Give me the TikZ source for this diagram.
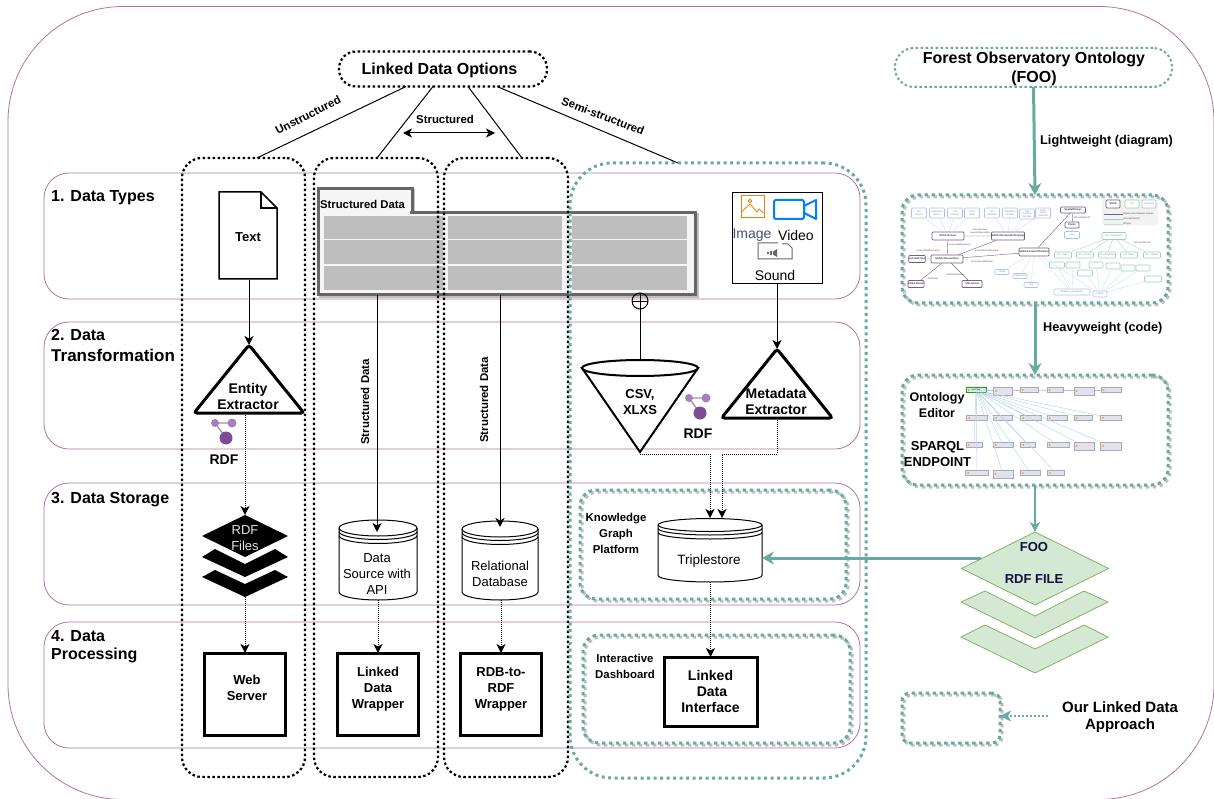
\documentclass[tikz,border=0pt]{standalone}
\usepackage{fontspec}
\setmainfont{Liberation Sans}
\usetikzlibrary{arrows.meta,shapes.geometric}

\definecolor{rowpurple}{HTML}{B5739D}
\definecolor{footeal}{HTML}{67AB9F}
\definecolor{cellgrey}{HTML}{BEBEBE}
\definecolor{tablegrey}{HTML}{666666}
\definecolor{stackgreen}{HTML}{D5E8D4}
\definecolor{stackedge}{HTML}{82B366}
\definecolor{foonavy}{HTML}{10103F}
\definecolor{rdflight}{HTML}{A680B8}
\definecolor{rdfdark}{HTML}{7F4B96}
\definecolor{sosapurple}{HTML}{7A5C86}
\definecolor{miniblue}{HTML}{A9C4F0}
\definecolor{minigreen}{HTML}{98D2B6}
\definecolor{linkblue}{HTML}{BDD7EA}
\definecolor{imageslate}{HTML}{46536B}
\definecolor{classfill}{HTML}{E2E2EC}
\definecolor{classedge}{HTML}{A8A8B6}

\tikzset{
  framebox/.style={draw=rowpurple, line width=0.8pt, inner sep=0pt, outer sep=0pt},
  rowbox/.style={framebox, rounded corners=25pt, minimum width=816pt},
  optioncol/.style={draw=black, line width=2.2pt, dash pattern=on 2.5pt off 2.5pt, rounded corners=20pt, inner sep=0pt, outer sep=0pt, minimum width=123pt, minimum height=619pt},
  foobox/.style={draw=footeal, line width=3pt, dash pattern=on 3.5pt off 3.5pt, rounded corners=16pt, inner sep=0pt, outer sep=0pt,
    preaction={draw=black!25, transform canvas={shift={(2pt,-2pt)}}}},
  lab/.style={font=\bfseries\fontsize{13}{16}\selectfont, align=center, inner sep=0pt},
  biglab/.style={font=\bfseries\fontsize{14}{16}\selectfont, align=center, inner sep=0pt},
  smalllab/.style={font=\bfseries\fontsize{11.4}{16}\selectfont, align=center, inner sep=0pt},
  arrowlab/.style={font=\bfseries\fontsize{12.7}{14}\selectfont, inner sep=0pt, anchor=west},
  rowlab/.style={font=\bfseries\fontsize{16}{21}\selectfont, align=left, inner sep=0pt, anchor=west},
  plainlab/.style={font=\fontsize{13}{16}\selectfont, align=center, inner sep=0pt},
  iconlab/.style={font=\fontsize{14}{16}\selectfont, inner sep=0pt},
  blackbox/.style={draw=black, line width=3pt, fill=white, inner sep=0pt, outer sep=0pt, minimum width=81pt, minimum height=82pt},
  extractor/.style={draw=black, fill=white, line width=3pt, isosceles triangle, isosceles triangle stretches, shape border rotate=90, rounded corners=3pt, inner sep=0pt, outer sep=0pt, anchor=apex},
  dbstore/.style={inner sep=0pt, outer sep=0pt},
  ringline/.style={draw=black, line width=1pt},
  solidline/.style={draw=black, line width=1pt},
  solidarrow/.style={solidline, -{Stealth[length=9pt,width=9pt,inset=2.5pt]}},
  dotarrow/.style={draw=black, line width=1pt, dash pattern=on 1pt off 1pt, -{Stealth[length=9pt,width=9pt,inset=2.5pt]}},
  tealarrow/.style={draw=footeal, line width=3pt, -{Stealth[length=12pt,width=13pt,inset=4pt]}},
  blackstack/.style={fill=black},
  greenstack/.style={fill=stackgreen, draw=stackedge, line width=0.8pt},
  sosanode/.style={draw=sosapurple, line width=0.7pt, fill=white, rounded corners=1pt, inner sep=0pt, minimum height=8pt, text=black!80, font=\bfseries\fontsize{2.6}{3}\selectfont},
  bluenode/.style={draw=miniblue, line width=0.6pt, fill=white, rounded corners=1pt, inner sep=0pt, minimum width=15pt, minimum height=6pt, align=center, text=black!45, font=\fontsize{2.4}{2.8}\selectfont},
  greennode/.style={draw=minigreen, line width=0.6pt, fill=white, rounded corners=1pt, inner sep=0pt, minimum width=17pt, minimum height=6pt, text=black!45, font=\fontsize{2.4}{2.8}\selectfont},
  minilink/.style={draw=miniblue!70, line width=0.3pt},
  greenlink/.style={draw=minigreen, line width=0.3pt},
  purplelink/.style={draw=sosapurple, line width=0.4pt},
  linklab/.style={font=\fontsize{2.3}{2.6}\selectfont, inner sep=0pt, text=black!70},
  classbox/.style={draw=classedge, line width=0.4pt, fill=classfill, inner sep=0pt, minimum height=5pt, minimum width=19pt,
    path picture={\fill[orange!80!yellow] ([xshift=2.5pt]path picture bounding box.west) circle (1pt);}},
  classlink/.style={draw=linkblue, line width=0.5pt},
  rdfmark/.pic={
    \draw[black!40, line width=1.3pt] (0,0) -- (17,0) (0,0) -- (11,15);
    \fill[rdflight] (0,0) circle (4);
    \fill[rdflight] (17,0) circle (4.5);
    \fill[rdfdark] (11,15) circle (6.5);
  }
}

% left x, y of top rim, x radius, y radius, y of bottom rim
\newcommand{\dbdraw}[5]{
  \draw[ringline, fill=white] (#1,#2) arc[start angle=180, end angle=360, x radius=#3, y radius=#4] -- ({#1+2*#3},#5) arc[start angle=0, end angle=180, x radius=#3, y radius=#4] -- cycle;
  \draw[ringline] (#1,#2) arc[start angle=180, end angle=0, x radius=#3, y radius=#4];
  \draw[ringline] (#1,{#2+3.5}) arc[start angle=180, end angle=0, x radius=#3, y radius=#4];
  \draw[ringline] (#1,{#2+7.5}) arc[start angle=180, end angle=0, x radius=#3, y radius=#4];
}

\begin{document}
\begin{tikzpicture}[x=1pt,y=-1pt]
\useasboundingbox (0,0) rectangle (1214,799);

% frames
\node[framebox, rounded corners=115pt, minimum width=1206pt, minimum height=793pt] (outerframe) at (611,403) {};
\node[rowbox, minimum height=126pt] (rowone) at (452,236) {};
\node[rowbox, minimum height=127pt] (rowtwo) at (452,385.5) {};
\node[rowbox, minimum height=122pt] (rowthree) at (452,544) {};
\node[rowbox, minimum height=126pt] (rowfour) at (452,685) {};

\node[rowlab] (typeslab) at (51,198) {1. Data Types};
\node[rowlab] (translab) at (51,345) {2. Data\\{\fontsize{17}{21}\selectfont Transformation}};
\node[rowlab] (storagelab) at (51,500) {3. Data Storage};
\node[rowlab] (processlab) at (51,646.5) {4. Data\\[-3pt]Processing};

% structured data table
\node[draw=tablegrey, line width=3pt, fill=black!4, inner sep=0pt, outer sep=0pt, minimum width=94pt, minimum height=24pt,
  preaction={draw=black!25, transform canvas={shift={(1.5pt,-1.5pt)}}}] (tabletab) at (365,201) {};
\node[draw=tablegrey, line width=3pt, fill=black!4, inner sep=0pt, outer sep=0pt, minimum width=377pt, minimum height=82pt,
  preaction={draw=black!25, transform canvas={shift={(1.5pt,-1.5pt)}}}] (datatable) at (507,254) {};
\fill[black!4] (320,210) rectangle (410,215);
\node[font=\bfseries\fontsize{11.3}{13}\selectfont, inner sep=0pt] (tablelab) at (362.5,204) {Structured Data};
\fill[cellgrey] (324,216) rectangle (443,239);
\fill[cellgrey] (324,240) rectangle (443,264);
\fill[cellgrey] (324,266) rectangle (443,290);
\fill[cellgrey] (448,216) rectangle (562,239);
\fill[cellgrey] (448,240) rectangle (562,264);
\fill[cellgrey] (448,266) rectangle (562,290);
\fill[cellgrey] (572,216) rectangle (687,239);
\fill[cellgrey] (572,240) rectangle (687,264);
\fill[cellgrey] (572,266) rectangle (687,290);

% option columns
\node[optioncol] (colone) at (243.5,467.5) {};
\node[optioncol, minimum width=124pt] (coltwo) at (376,467.5) {};
\node[optioncol, minimum width=124pt] (colthree) at (506,467.5) {};
\node[draw=footeal, line width=3pt, dash pattern=on 3pt off 3.5pt, rounded corners=42pt, inner sep=0pt, outer sep=0pt, minimum width=296pt, minimum height=615pt] (colfour) at (718,470.5) {};

\node[draw=black, line width=2.2pt, dash pattern=on 2.5pt off 2.5pt, rounded corners=17pt, inner sep=0pt, outer sep=0pt, minimum width=208pt, minimum height=35pt] (options) at (443,69) {};
\node[font=\bfseries\fontsize{16}{18}\selectfont, inner sep=0pt] (optionslab) at (439.5,70) {Linked Data Options};

\draw[solidline] ([xshift=-37pt]options.south) -- ([xshift=13.5pt]colone.north);
\draw[solidline] ([xshift=-10pt]options.south) -- ([xshift=1pt]coltwo.north);
\draw[solidline] ([xshift=25pt]options.south) -- ([xshift=16pt]colthree.north);
\draw[solidline] ([xshift=54pt]options.south) -- ([xshift=-40pt]colfour.north);
\node[smalllab, rotate=27] (unstructlab) at (308,115) {Unstructured};
\node[smalllab, rotate=-21] (semilab) at (603,116) {Semi-structured};
\node[smalllab] (structlab) at (445,119) {Structured};
\coordinate (structleft) at (403,133);
\coordinate (structright) at (495,133);
\draw[solidline, {Stealth[length=9pt,width=9pt,inset=2.5pt]}-{Stealth[length=9pt,width=9pt,inset=2.5pt]}] (structleft) -- (structright);

% text document and extractor
\node[minimum width=58pt, minimum height=87pt, inner sep=0pt, outer sep=0pt, lab] (textdoc) at (248,237) {Text};
\draw[draw=black, line width=1.5pt] (219,192) -- (261,192) -- (277,208) -- (277,279) -- (219,279) -- cycle;
\draw[draw=black, line width=1.5pt] (261,192) -- (261,208) -- (277,208);
\node[extractor, minimum width=110pt, minimum height=68pt] (entity) at (249,345) {};
\node[biglab] (entitylab) at (248,396) {Entity\\Extractor};
\draw[solidarrow] (entity.apex |- textdoc.south) -- (entity.apex);
\pic at (215,423) {rdfmark};
\node[biglab] (rdflabone) at (224,460) {RDF};

% rdf files stack
\fill[blackstack] (202,557) -- (215,549) -- (245,564) -- (275,549) -- (288,557) -- (245,577) -- cycle;
\fill[blackstack] (202,577) -- (215,570) -- (245,584) -- (275,570) -- (288,577) -- (245,597) -- cycle;
\node[diamond, aspect=2, fill=black, inner sep=0pt, outer sep=0pt, minimum width=86pt, minimum height=42pt] (rdffiles) at (245,536) {};
\node[plainlab, text=black!10] (rdffileslab) at (245,538.5) {RDF\\Files};
\draw[dotarrow] (rdffiles.north |- entity.lower side) -- (rdffiles.north);
\node[blackbox] (webserver) at (245,694) {};
\node[lab] (webserverlab) at (247,688) {Web\\Server};
\draw[dotarrow] (rdffiles.south |- 0,597) -- (webserver.north);

% structured data sources
\node[dbstore, minimum width=78pt, minimum height=80pt] (datasource) at (378,560) {};
\node[dbstore, minimum width=76pt, minimum height=79pt] (reldb) at (500,560.5) {};
\dbdraw{339}{528}{39}{8}{592}
\dbdraw{462}{529}{38}{8}{592}
\node[plainlab] (datasourcelab) at (377,574) {Data\\Source with\\API};
\node[plainlab] (reldblab) at (500,574) {Relational\\Database};
\coordinate (dsport) at (377,532);
\coordinate (dbport) at (500,527);
\draw[solidarrow] (datatable.south -| dsport) -- (dsport);
\draw[solidarrow] (datatable.south -| dbport) -- (dbport);
\node[smalllab, rotate=90] (sdlabone) at (365,402) {Structured Data};
\node[smalllab, rotate=90] (sdlabtwo) at (484,400) {Structured Data};
\node[blackbox] (wrapper) at (378,694) {};
\node[lab] (wrapperlab) at (378,689) {Linked\\Data\\Wrapper};
\node[blackbox] (rdbwrapper) at (501,694) {};
\node[lab] (rdbwrapperlab) at (501,689) {RDB-to-\\RDF\\Wrapper};
\draw[dotarrow] (wrapper.north |- datasource.south) -- (wrapper.north);
\draw[dotarrow] (rdbwrapper.north |- reldb.south) -- (rdbwrapper.north);

% semi-structured side
\node[draw=black, line width=1pt, fill=white, inner sep=0pt, outer sep=0pt, minimum width=90pt, minimum height=91pt] (mediabox) at (777,238) {};
\draw[draw=orange!70!brown, line width=1pt] (741,196) rectangle (764,218);
\draw[draw=orange!70!brown, line width=0.8pt] (741.5,212) -- (750,204) -- (757,212) -- (759,209) -- (763.5,213);
\draw[draw=orange!70!brown, line width=0.8pt] (750,201) circle (1.8);
\draw[draw=blue!50!cyan, line width=2pt, rounded corners=2pt] (774,200) rectangle (804,219);
\draw[draw=blue!50!cyan, line width=2pt, line join=round] (804,206) -- (816,200) -- (816,219) -- (804,213) -- cycle;
\node[iconlab, text=imageslate] (imagelab) at (752,235) {Image};
\node[iconlab] (videolab) at (796,235) {Video};
\draw[draw=black!60, line width=1pt] (778,243) -- (758,243) -- (758,259) -- (792,259) -- (792,248) -- (788,244) -- (782,244);
\fill[black!60] (770,251) rectangle (772,255);
\fill[black!60] (773,251.5) -- (777,249) -- (777,257) -- (773,254.5) -- cycle;
\fill[black!60] (767,252) rectangle (768.5,254);
\node[iconlab] (soundlab) at (775,275) {Sound};

\node[circle, draw=black, fill=none, line width=1pt, inner sep=0pt, outer sep=0pt, minimum size=16pt,
  path picture={\draw[black, line width=0.8pt] (path picture bounding box.north) -- (path picture bounding box.south) (path picture bounding box.west) -- (path picture bounding box.east);}] (joincircle) at (640,301) {};
\node[extractor, minimum width=116pt, minimum height=84pt, shape border rotate=270, line width=2pt, rounded corners=0pt] (funnel) at (640,452) {};
\node[ellipse, draw=black, fill=white, line width=2pt, inner sep=0pt, outer sep=0pt, minimum width=116pt, minimum height=16pt] (funneltop) at (640,368) {};
\node[lab] (funnellab) at (640,402) {CSV,\\XLXS};
\draw[solidline] (joincircle.south) -- (funneltop.north);
\pic at (689,398) {rdfmark};
\node[biglab] (rdflabtwo) at (698,434) {RDF};
\node[extractor, minimum width=111pt, minimum height=69pt] (metadata) at (777,349) {};
\node[biglab] (metadatalab) at (776,401) {Metadata\\Extractor};
\draw[solidarrow] (metadata.apex |- mediabox.south) -- (metadata.apex);

% knowledge graph platform
\node[foobox, minimum width=266pt, minimum height=109pt] (kgbox) at (713,544.5) {};
\node[dbstore, minimum width=104pt, minimum height=64pt] (triplestore) at (710,550) {};
\dbdraw{658}{525}{52}{6.5}{575.5}
\node[plainlab, font=\fontsize{13.5}{16}\selectfont] (triplelab) at (709,561.5) {Triplestore};
\node[smalllab] (kglab) at (616,533) {Knowledge\\Graph\\Platform};
\coordinate (tripleporta) at (710,518);
\coordinate (triplelportb) at (722,518);
\draw[dotarrow] (funnel.apex) -- ++(0,2) -| (tripleporta);
\draw[dotarrow] (metadata.lower side) -- ++(0,36) -| (triplelportb);

% interactive dashboard
\node[foobox, minimum width=267pt, minimum height=108pt] (dashbox) at (716.5,689) {};
\node[smalllab] (dashlab) at (625,666) {Interactive\\Dashboard};
\node[blackbox, biglab, minimum width=93pt, minimum height=69pt] (interface) at (710.5,691.5) {Linked\\\hspace*{3pt}Data\\Interface};
\draw[dotarrow] (interface.north |- triplestore.south) -- (interface.north);

% right hand side
\node[draw=footeal, line width=2pt, dash pattern=on 2.5pt off 2.5pt, rounded corners=19pt, inner sep=0pt, outer sep=0pt, minimum width=277pt, minimum height=39pt] (foobar) at (1033.5,67.5) {};
\node[lab, font=\bfseries\fontsize{16}{19}\selectfont] (foolab) at (1034,68.5) {Forest Observatory Ontology\\(FOO)};
\node[foobox, minimum width=266pt, minimum height=108pt] (diagrambox) at (1035,249) {};
\node[foobox, minimum width=266pt, minimum height=110pt] (editorbox) at (1035,430) {};
\draw[tealarrow] (foobar.south) -- (diagrambox.north);
\draw[tealarrow] (diagrambox.south) -- (editorbox.north);
\node[arrowlab] (lightlab) at (1040,141) {Lightweight (diagram)};
\node[arrowlab] (heavylab) at (1043,328) {Heavyweight (code)};

% ontology diagram in miniature
\node[bluenode, minimum height=10pt] (soilsensor) at (919,213) {Soil\\Sensor};
\node[bluenode, minimum height=10pt] (vegsensor) at (937,213) {Vegetation\\Sensor};
\node[bluenode, minimum height=10pt] (trailcam) at (955,213) {Trail\\Camera};
\node[bluenode, minimum height=10pt] (gpscollar) at (972,213) {GPS\\Collar};
\node[bluenode, minimum height=10pt] (soilvar) at (992,213) {Soil\\Variables};
\node[bluenode, minimum height=10pt] (vegvar) at (1010,213) {Vegetation\\Variable};
\node[bluenode, minimum height=10pt] (trailvar) at (1027,214) {Trail\\Camera\\Variable};
\node[bluenode, minimum height=10pt] (gpsvar) at (1043,213) {GPS\\Collar\\Variables};
\node[sosanode, minimum width=32pt] (sosasensor) at (948,236) {SOSA:Sensor};
\node[sosanode, minimum width=32pt] (obsprop) at (1008,236) {SOSA:ObservableProperty};
\node[sosanode, minimum width=32pt] (sosaobs) at (947,259) {SOSA:Observation};
\node[sosanode, minimum width=30pt] (featureint) at (1034,252) {SOSA:FeatureOfInterest};
\node[sosanode, minimum width=16pt, minimum height=7pt] (xsdtime) at (917,259) {xsd:dateTime};
\node[sosanode, minimum width=16pt, minimum height=7pt] (sosaresult) at (916,284) {SOSA:Result};
\node[sosanode, minimum width=20pt, minimum height=7pt] (rdfsliteral) at (972,284) {rdfs:Literal};
\node[sosanode, minimum width=25pt, minimum height=6pt] (spatial) at (1073,210) {SpatialThings};
\node[sosanode, minimum width=14pt, minimum height=6pt] (plants) at (1072,225) {Plants};
\node[bluenode, minimum height=7pt] (geolist) at (1072,235) {Geo};
\node[bluenode, minimum width=14pt, minimum height=5pt] (imagemini) at (1002,272) {Image};
\node[bluenode, minimum width=14pt, minimum height=5pt] (vegmini) at (1020,276) {Vegetation};
\node[bluenode, minimum width=14pt, minimum height=5pt] (soilmini) at (1031,285) {Soil};
\node[greennode, minimum width=24pt, minimum height=7pt] (taxonrank) at (1114,236) {foo: TaxonRank};
\node[greennode] (fooclass) at (1063,255) {foo: Class};
\node[greennode] (foofamily) at (1085,255) {foo: Family};
\node[greennode] (fookingdom) at (1107,255) {foo: Kingdom};
\node[greennode] (fooorder) at (1129,255) {foo: Order};
\node[greennode] (foophylum) at (1152,255) {foo: Phylum};
\node[greennode, minimum width=15pt] (speciesa) at (1057,265) {};
\node[greennode, minimum width=14pt] (speciesb) at (1073,265) {};
\node[greennode, minimum width=15pt] (speciesc) at (1085,273) {};
\node[greennode, minimum width=14pt] (speciesd) at (1096,265) {};
\node[greennode, minimum width=14pt] (speciese) at (1113,266) {};
\node[greennode, minimum width=14pt] (speciesf) at (1128,268) {};
\node[greennode, minimum width=14pt] (speciesg) at (1143,268) {};
\node[greennode] (speciesh) at (1153,279) {};
\node[bluenode, minimum width=36pt] (elaphus) at (1072,292) {Elaphus\_canadensis};
\node[bluenode, minimum width=14pt] (python) at (1100,294) {Python};

\draw[minilink] (soilsensor) -- (sosasensor) (vegsensor) -- (sosasensor) (trailcam) -- (sosasensor) (gpscollar) -- (sosasensor);
\draw[minilink] (soilvar) -- (obsprop) (vegvar) -- (obsprop) (trailvar) -- (obsprop) (gpsvar) -- (obsprop);
\draw[minilink] (imagemini) -- (featureint) (vegmini) -- (featureint) (soilmini) -- (featureint) (elaphus) -- (featureint) (python) -- (featureint);
\draw[purplelink] (sosasensor) -- (obsprop) (sosasensor) -- (sosaobs) (sosaobs) -- (xsdtime) (sosaobs) -- (sosaresult) (sosaobs) -- (rdfsliteral) (sosaobs) -- (obsprop) (sosaobs) -- (featureint) (featureint) -- (spatial) (spatial) -- (plants) (plants) -- (geolist);
\draw[greenlink] (taxonrank) -- (fooclass) (taxonrank) -- (foofamily) (taxonrank) -- (fookingdom) (taxonrank) -- (fooorder) (taxonrank) -- (foophylum);
\draw[minilink] (speciesa) -- (elaphus) (speciesb) -- (elaphus) (speciesc) -- (python) (speciesd) -- (python) (speciese) -- (python) (speciesf) -- (python) (speciesg) -- (python) (speciesh) -- (python);

\node[linklab] (observeslab) at (980,230) {sosa:observes};
\node[linklab] (isobservedlab) at (980,233) {sosa:isObservedBy};
\node[linklab] (madebylab) at (960,245) {sosa:madeBySensor};
\node[linklab] (madeobslab) at (928,251) {sosa:madeObservation};
\node[linklab] (obspropalab) at (987,251) {sosa:observedProperty};
\node[linklab] (hasfeatlab) at (982,262) {hasFeatureOfInterest};
\node[linklab] (hasresultlab) at (933,279) {hasResult};
\node[linklab] (simplelab) at (955,275) {hasSimpleResult};
\node[linklab] (subclasslab) at (1082,218) {rdfs:subClassOf};
\node[linklab] (subclasstwolab) at (1142,243) {rdfs:subClassOf};

\node[fill=black!5, rounded corners=3pt, inner sep=0pt, minimum width=56pt, minimum height=27pt] (legendpanel) at (1130,212) {};
\node[sosanode, minimum width=14pt] (legendsosa) at (1113,204) {SOSA};
\node[greennode, minimum width=14pt, minimum height=8pt] (legendfoo) at (1132,204) {foo};
\node[bluenode, minimum width=14pt, minimum height=8pt] (legendinst) at (1149,204) {Instances};
\node[linklab, anchor=west] (legendone) at (1123,214) {Relationship between classes};
\node[linklab, anchor=west] (legendtwo) at (1123,219) {rdfs:subClassOf};
\node[linklab, anchor=west] (legendthree) at (1123,224) {rdf:type};
\coordinate (legendoneleft) at (1104,214);
\coordinate (legendtwoleft) at (1104,219);
\coordinate (legendthreeleft) at (1104,224);
\draw[purplelink] (legendoneleft) -- (legendone.west);
\draw[greenlink] (legendtwoleft) -- (legendtwo.west);
\draw[minilink] (legendthreeleft) -- (legendthree.west);

% ontology editor in miniature
\node[lab, font=\bfseries\fontsize{12.5}{16}\selectfont] (editorlab) at (937,405) {Ontology\\Editor};
\node[lab] (sparqllab) at (937.5,454) {SPARQL\\ENDPOINT};
\node[classbox, draw=green!70!black, minimum width=20pt, font=\fontsize{2}{2}\selectfont] (cellaa) at (976,390) {owl:Thing};
\node[classbox, minimum height=8pt] (cellab) at (1003,391) {};
\node[classbox, minimum width=18pt] (cellac) at (1029,390) {};
\node[classbox, minimum width=16pt] (cellad) at (1055,390) {};
\node[classbox, minimum width=20pt, minimum height=8pt] (cellae) at (1084,391) {};
\node[classbox, minimum width=20pt] (cellaf) at (1111,390) {};
\node[classbox, minimum width=21pt] (cellba) at (977,418) {};
\node[classbox] (cellbb) at (1003,418) {};
\node[classbox, minimum width=21pt] (cellbc) at (1031,418) {};
\node[classbox, minimum width=20pt] (cellbd) at (1057,418) {};
\node[classbox, minimum width=18pt] (cellbe) at (1083,418) {};
\node[classbox, minimum width=21pt] (cellbf) at (1111,418) {};
\node[classbox, minimum width=16pt] (cellca) at (974,445) {};
\node[classbox, minimum width=20pt] (cellcb) at (1003,445) {};
\node[classbox, minimum width=15pt] (cellcc) at (1028,445) {};
\node[classbox, minimum width=22pt] (cellcd) at (1058,445) {};
\node[classbox, minimum width=20pt, minimum height=8pt] (cellce) at (1084,446) {};
\node[classbox, minimum width=21pt, minimum height=8pt] (cellcf) at (1111,446) {};
\node[classbox, minimum width=23pt] (cellda) at (977,473) {};
\node[classbox, minimum width=20pt, minimum height=8pt] (celldb) at (1003,474) {};
\node[classbox, minimum width=20pt] (celldc) at (1030,473) {};
\node[classbox, minimum width=17pt] (celldd) at (1056,473) {};
\draw[classlink, draw=linkblue!70!blue] (cellaa) -- (cellab) (cellab) -- (cellac) (cellac) -- (cellad) (cellad) -- (cellae) (cellae) -- (cellaf);
\draw[classlink] (cellaa) -- (cellba) (cellaa) -- (cellbb) (cellaa) -- (cellbc) (cellaa) -- (cellbd) (cellaa) -- (cellbe) (cellaa) -- (cellbf);
\draw[classlink] (cellaa) -- (cellca) (cellaa) -- (cellcb) (cellaa) -- (cellcc) (cellaa) -- (cellcd) (cellaa) -- (cellce) (cellaa) -- (cellcf);
\draw[classlink] (cellaa) -- (cellda) (cellaa) -- (celldb) (cellaa) -- (celldc) (cellaa) -- (celldd);

% foo rdf file stack
\draw[greenstack] (961,602) -- (985,591) -- (1035,616) -- (1084,591) -- (1108,602) -- (1035,638) -- cycle;
\draw[greenstack] (961,637) -- (985,625) -- (1035,649) -- (1084,625) -- (1108,637) -- (1035,673) -- cycle;
\node[diamond, aspect=2, fill=stackgreen, draw=stackedge, line width=0.8pt, inner sep=0pt, outer sep=0pt, minimum width=147pt, minimum height=73pt] (foofile) at (1035,568.5) {};
\node[lab, text=foonavy] (foofilelabone) at (1034,547) {FOO};
\node[lab, text=foonavy] (foofilelabtwo) at (1034,579) {RDF FILE};
\draw[draw=footeal, line width=2pt, -{Stealth[length=10pt,width=10pt,inset=3pt]}] (editorbox.south) -- (foofile.north);
\coordinate (fooexit) at (981,558);
\draw[tealarrow] (fooexit) -- (fooexit -| triplestore.east);

% legend
\node[foobox, rounded corners=8pt, minimum width=98pt, minimum height=50pt] (legendbox) at (951,718) {};
\node[lab, font=\bfseries\fontsize{15}{17}\selectfont] (legendlab) at (1120,717.5) {Our Linked Data\\Approach};
\coordinate (legendtail) at (1048,716);
\draw[draw=footeal, line width=2pt, dash pattern=on 2pt off 2pt, -{Stealth[length=11pt,width=11pt,inset=3pt]}] (legendtail) -- (legendbox.east |- legendtail);

\end{tikzpicture}
\end{document}
